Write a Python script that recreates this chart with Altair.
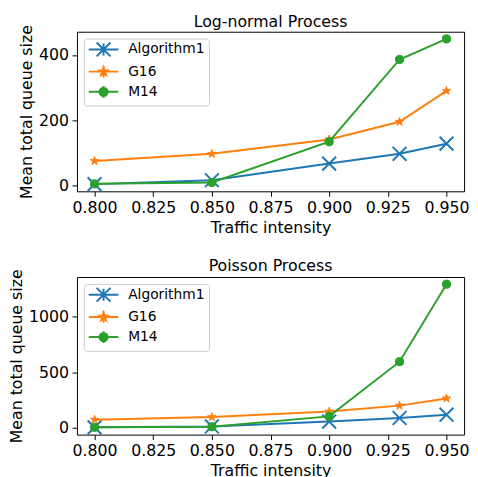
import math
import altair as alt
import pandas as pd

# ---- data ----
x_vals = [0.80, 0.85, 0.90, 0.93, 0.95]
series_names = ["Algorithm1", "G16", "M14"]

ln_alg1 = [4, 16, 67, 97, 128]
ln_g16 = [75, 97, 141, 195, 290]
ln_m14 = [5, 9, 134, 386, 449]

po_alg1 = [1, 9, 53, 85, 115]
po_g16 = [70, 94, 144, 197, 262]
po_m14 = [1, 6, 100, 594, 1294]

x_ticks = [0.800, 0.825, 0.850, 0.875, 0.900, 0.925, 0.950]
ln_yticks = [0, 200, 400]
po_yticks = [0, 500, 1000]

colors = ["#1f77b4", "#ff7f0e", "#2ca02c"]
FONT = "DejaVu Sans"


# ---- marker paths (style only) ----
def star_path(R, r, prefix=""):
    pts = []
    for k in range(10):
        ang = math.radians(-90 + 36 * k)
        rad = R if k % 2 == 0 else r
        pts.append(f"{rad * math.cos(ang):.3f},{rad * math.sin(ang):.3f}")
    return prefix + "M" + "L".join(pts) + "Z"


def circle_path(r, prefix=""):
    return prefix + f"M{r},0A{r},{r},0,1,1,{-r},0A{r},{r},0,1,1,{r},0Z"


def x_path(h, prefix=""):
    return prefix + f"M{-h},{-h}L{h},{h}M{-h},{h}L{h},{-h}"


LEG_BASE = "M-2.5,0L2.5,0M0,-1L0,1"
legend_paths = [
    x_path(1.17, LEG_BASE),
    star_path(0.7, 0.27, LEG_BASE),
    circle_path(0.7, LEG_BASE),
]

X_MARK = x_path(1)
STAR_MARK = star_path(1, 0.382)


def panel(title, a, g, m, yticks, ydomain, height):
    df = pd.DataFrame({
        "x": x_vals * 3,
        "y": a + g + m,
        "series": [s for s in series_names for _ in x_vals],
    })
    base = alt.Chart(df).encode(
        x=alt.X("x:Q",
                scale=alt.Scale(domain=[0.7925, 0.9575], nice=False, zero=False),
                axis=alt.Axis(values=x_ticks, format=".3f", title="Traffic intensity")),
        y=alt.Y("y:Q",
                scale=alt.Scale(domain=ydomain, nice=False, zero=False),
                axis=alt.Axis(values=yticks, format="d", title="Mean total queue size")),
    )
    layers = []
    point_styles = [
        dict(shape=X_MARK, size=196, filled=False, strokeWidth=2),
        dict(shape=STAR_MARK, size=80, filled=True, strokeWidth=1),
        dict(shape="circle", size=70, filled=True, strokeWidth=1),
    ]
    for name, col, ps in zip(series_names, colors, point_styles):
        sub = base.transform_filter(alt.datum.series == name)
        layers.append(sub.mark_line(color=col, strokeWidth=2))
        if ps["filled"]:
            layers.append(sub.mark_point(color=col, stroke=col, fill=col, opacity=1, **ps))
        else:
            layers.append(sub.mark_point(color=col, opacity=1, **ps))
    leg = alt.Legend(
        orient="top-left", offset=7, title=None,
        labelFontSize=14, labelFont=FONT, labelColor="black",
        symbolSize=144, symbolStrokeWidth=2, symbolOpacity=1,
        rowPadding=0.5, padding=4,
        fillColor="white", strokeColor="#cccccc", cornerRadius=3,
        symbolOffset=9, labelOffset=18,
    )
    legend_layer = base.transform_filter("datum.y < -1e9").mark_point(
        filled=True, strokeWidth=2, opacity=1
    ).encode(
        color=alt.Color("series:N", scale=alt.Scale(domain=series_names, range=colors), legend=leg),
        stroke=alt.Stroke("series:N", scale=alt.Scale(domain=series_names, range=colors), legend=leg),
        shape=alt.Shape("series:N", scale=alt.Scale(domain=series_names, range=legend_paths), legend=leg),
    )
    layers.append(legend_layer)
    return alt.layer(*layers).properties(
        width=393, height=height,
        title=alt.TitleParams(title, fontSize=16, font=FONT, fontWeight="normal",
                              color="black", offset=-5, anchor="middle", frame="group"),
    )


top = panel("Log-normal Process", ln_alg1, ln_g16, ln_m14, ln_yticks, [-18, 471], 162)
bottom = panel("Poisson Process", po_alg1, po_g16, po_m14, po_yticks, [-65, 1359], 160)

chart = alt.vconcat(top, bottom, spacing=22).resolve_scale(
    color="independent", stroke="independent", shape="independent"
).resolve_legend(
    color="independent", stroke="independent", shape="independent"
).properties(
    padding={"left": 0, "top": 1.5, "right": 0, "bottom": 0}
).configure_view(
    stroke="black", strokeWidth=1
).configure_axis(
    labelFont=FONT, titleFont=FONT, labelFontSize=16, titleFontSize=16,
    labelColor="black", titleColor="black", titleFontWeight="normal",
    tickColor="black", tickSize=5, tickWidth=1, labelPadding=3.5,
    domain=False, grid=False, titlePadding=4,
)

chart.save("out.html", embed_options={"renderer": "svg", "actions": False})
